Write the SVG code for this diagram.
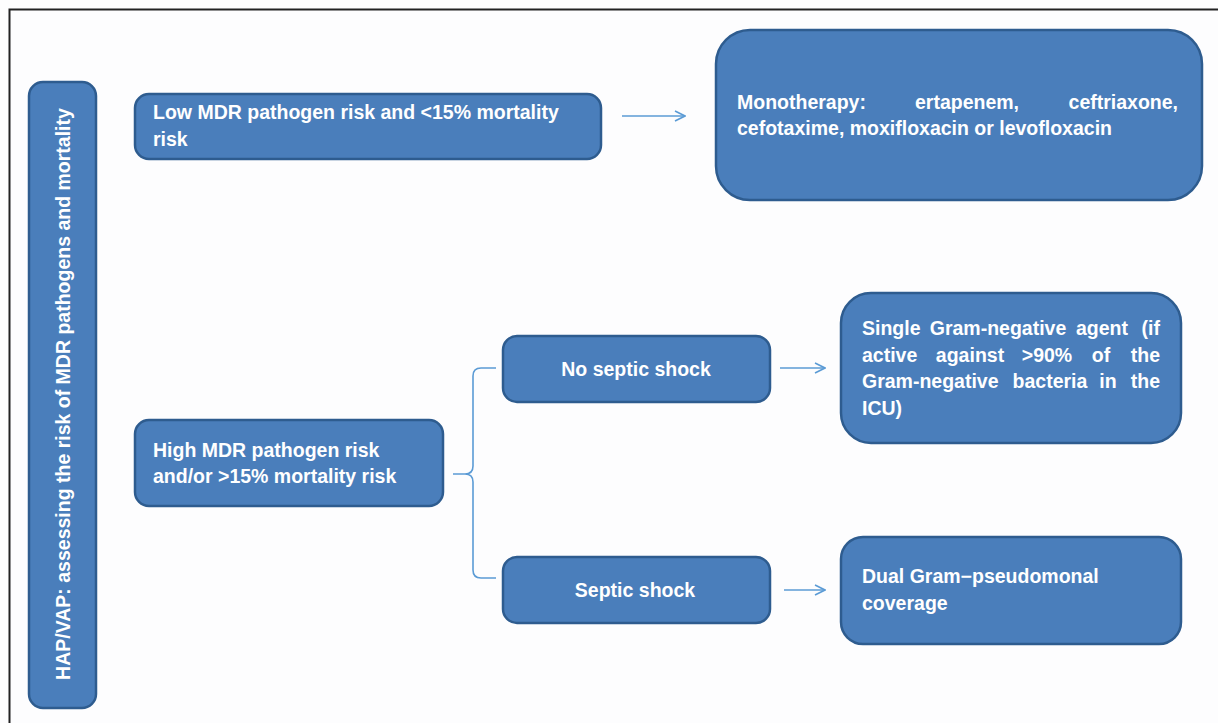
<svg xmlns="http://www.w3.org/2000/svg" width="1218" height="723" viewBox="0 0 1218 723">
<defs>
<style>
.box{fill:#4a7ebb;stroke:#2e5c8f;stroke-width:2.5}
.t{font-family:"Liberation Sans",Arial,sans-serif;font-weight:bold;font-size:19.5px;fill:#ffffff}
.c{fill:none;stroke:#5b9bd5;stroke-width:1.6}
</style>
<marker id="arr" viewBox="0 0 12 12" refX="11" refY="6" markerWidth="12" markerHeight="12" markerUnits="userSpaceOnUse" orient="auto">
<path d="M1,1 L11,6 L1,11" fill="none" stroke="#5b9bd5" stroke-width="1.6"/>
</marker>
</defs>
<rect width="1218" height="723" fill="#fdfdfe"/>
<path d="M9.5,723 V9.5 H1218" fill="none" stroke="#222" stroke-width="2"/>

<g id="connectors">
<line class="c" x1="622" y1="116" x2="685" y2="116" marker-end="url(#arr)"/>
<line class="c" x1="780" y1="368" x2="825" y2="368" marker-end="url(#arr)"/>
<line class="c" x1="784" y1="590" x2="825" y2="590" marker-end="url(#arr)"/>
<path class="c" d="M453,474 H465 Q473,474 473,466 V376 Q473,368 481,368 H496 M465,474 Q473,474 473,482 V570 Q473,578 481,578 H496"/>
</g>

<g id="node-main">
<rect class="box" x="29" y="82" width="67" height="626" rx="14"/>
<text class="t" transform="translate(70,394) rotate(-90)" text-anchor="middle">HAP/VAP: assessing  the risk of MDR pathogens and mortality</text>
</g>

<g id="node-low">
<rect class="box" x="135" y="94" width="466" height="65" rx="14"/>
<text class="t" x="153" y="119">Low MDR pathogen risk and &lt;15% mortality</text>
<text class="t" x="153" y="146">risk</text>
</g>

<g id="node-mono">
<rect class="box" x="716" y="30" width="486" height="170" rx="34"/>
<text class="t" y="109"><tspan x="737">Monotherapy:</tspan><tspan x="967" text-anchor="middle">ertapenem,</tspan><tspan x="1178" text-anchor="end">ceftriaxone,</tspan></text>
<text class="t" x="737" y="135">cefotaxime, moxifloxacin or levofloxacin</text>
</g>

<g id="node-high">
<rect class="box" x="135" y="420" width="308" height="86" rx="14"/>
<text class="t" x="153" y="457">High MDR pathogen risk</text>
<text class="t" x="153" y="483">and/or &gt;15% mortality risk</text>
</g>

<g id="node-nosep">
<rect class="box" x="503" y="336" width="267" height="66" rx="14"/>
<text class="t" x="636" y="376" text-anchor="middle">No septic shock</text>
</g>

<g id="node-sep">
<rect class="box" x="503" y="557" width="267" height="66" rx="14"/>
<text class="t" x="635" y="597" text-anchor="middle">Septic shock</text>
</g>

<g id="node-single">
<rect class="box" x="841" y="293" width="340" height="150" rx="30"/>
<text class="t" y="335"><tspan x="862">Single</tspan><tspan x="998" text-anchor="middle">Gram-negative</tspan><tspan x="1102" text-anchor="middle">agent</tspan><tspan x="1160" text-anchor="end">(if</tspan></text>
<text class="t" y="362"><tspan x="862">active</tspan><tspan x="970" text-anchor="middle">against</tspan><tspan x="1047" text-anchor="middle">&gt;90%</tspan><tspan x="1101" text-anchor="middle">of</tspan><tspan x="1160" text-anchor="end">the</tspan></text>
<text class="t" y="388"><tspan x="862">Gram-negative</tspan><tspan x="1050" text-anchor="middle">bacteria</tspan><tspan x="1108" text-anchor="middle">in</tspan><tspan x="1160" text-anchor="end">the</tspan></text>
<text class="t" x="862" y="415">ICU)</text>
</g>

<g id="node-dual">
<rect class="box" x="841" y="537" width="340" height="107" rx="22"/>
<text class="t" x="862" y="583">Dual Gram−pseudomonal</text>
<text class="t" x="862" y="610">coverage</text>
</g>
</svg>
